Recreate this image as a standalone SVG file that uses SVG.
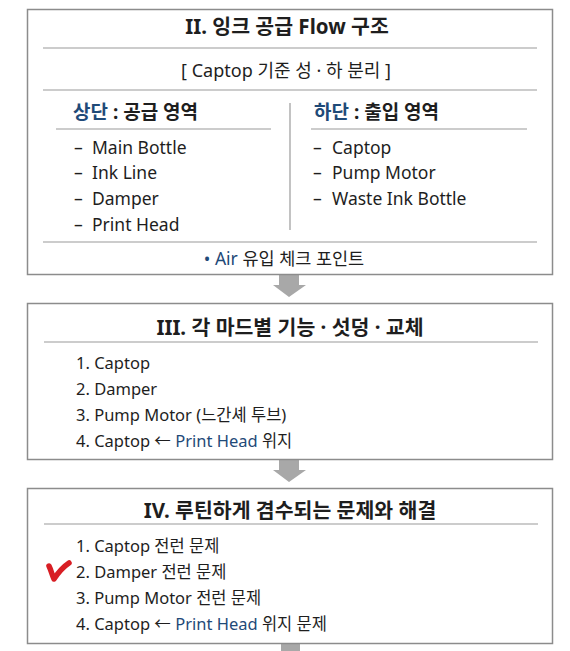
<svg xmlns="http://www.w3.org/2000/svg" width="570" height="651" viewBox="0 0 570 651">
<style>
text{font-family:"Noto Sans","Noto Sans CJK KR",sans-serif;fill:#1e1e1e;dominant-baseline:central}
.box{fill:#fff;stroke:#8c8c8c;stroke-width:1.5}
.rule{stroke:#9a9a9a;stroke-width:1.2}
.title{font-size:20.5px;font-weight:700;text-anchor:middle}
.sub{font-size:18px;text-anchor:middle}
.hd{font-size:19px;font-weight:700}
.it{font-size:17.5px}
.li{font-size:16.5px}
.blue{fill:#1f4a78}
.arrow{fill:#a8a8a8}
</style>
<rect width="570" height="651" fill="#fff"/>
<g id="connectors">
<polygon class="arrow" points="279,274 299,274 299,285 306,285 289,297 273,285 279,285"/>
<polygon class="arrow" points="279,460 299,460 299,470 306,470 289,482 273,470 279,470"/>
<rect class="arrow" x="281" y="644" width="19" height="7"/>
</g>
<g id="box-ii">
<rect class="box" x="27.5" y="9.5" width="525" height="265"/>
<text class="title" x="287" y="26">II. 잉크 공급 Flow 구조</text>
<line class="rule" x1="43" y1="48" x2="537" y2="48"/>
<text class="sub" x="286" y="70">[ Captop 기준 성 · 하 분리 ]</text>
<line class="rule" x1="43" y1="90" x2="537" y2="90"/>
<text class="hd" x="73" y="112"><tspan class="blue">상단</tspan> : 공급 영역</text>
<line class="rule" x1="56" y1="129" x2="271" y2="129"/>
<text class="hd" x="314" y="112"><tspan class="blue">하단</tspan> : 출입 영역</text>
<line class="rule" x1="311" y1="129" x2="527" y2="129"/>
<line class="rule" x1="290" y1="103" x2="290" y2="230"/>
<g class="it">
<text class="it" x="74" y="147">–</text><text class="it" x="92" y="147">Main Bottle</text>
<text class="it" x="74" y="172">–</text><text class="it" x="92" y="172">Ink Line</text>
<text class="it" x="74" y="198">–</text><text class="it" x="92" y="198">Damper</text>
<text class="it" x="74" y="224">–</text><text class="it" x="92" y="224">Print Head</text>
<text class="it" x="313" y="147">–</text><text class="it" x="332" y="147">Captop</text>
<text class="it" x="313" y="172">–</text><text class="it" x="332" y="172">Pump Motor</text>
<text class="it" x="313" y="198">–</text><text class="it" x="332" y="198">Waste Ink Bottle</text>
</g>
<line class="rule" x1="43" y1="242" x2="537" y2="242"/>
<text class="it" x="284" y="258" text-anchor="middle"><tspan class="blue">• Air</tspan> 유입 체크 포인트</text>
</g>
<g id="box-iii">
<rect class="box" x="27.5" y="303.5" width="525" height="156"/>
<text class="title" x="290" y="327">III. 각 마드별 기능 · 섯덩 · 교체</text>
<line class="rule" x1="44" y1="342" x2="538" y2="342"/>
<text class="li" x="76" y="362">1. Captop</text>
<text class="li" x="76" y="388">2. Damper</text>
<text class="li" x="76" y="414">3. Pump Motor (느간셰 투브)</text>
<text class="li" x="76" y="440">4. Captop ← <tspan class="blue">Print Head</tspan> 위지</text>
</g>
<g id="box-iv">
<rect class="box" x="27.5" y="488.5" width="525" height="155"/>
<text class="title" x="290" y="510">IV. 루틴하게 겸수되는 문제와 해결</text>
<line class="rule" x1="44" y1="524" x2="538" y2="524"/>
<text class="li" x="76" y="545">1. Captop 전런 문제</text>
<text class="li" x="76" y="571">2. Damper 전런 문제</text>
<text class="li" x="76" y="597">3. Pump Motor 전런 문제</text>
<text class="li" x="76" y="623">4. Captop ← <tspan class="blue">Print Head</tspan> 위지 문제</text>
<path d="M49,566 C51,570 52,575 54,579 C58,573 63,567 69,563" fill="none" stroke="#d81e24" stroke-width="5.5" stroke-linecap="round" stroke-linejoin="round"/>
</g>
</svg>
